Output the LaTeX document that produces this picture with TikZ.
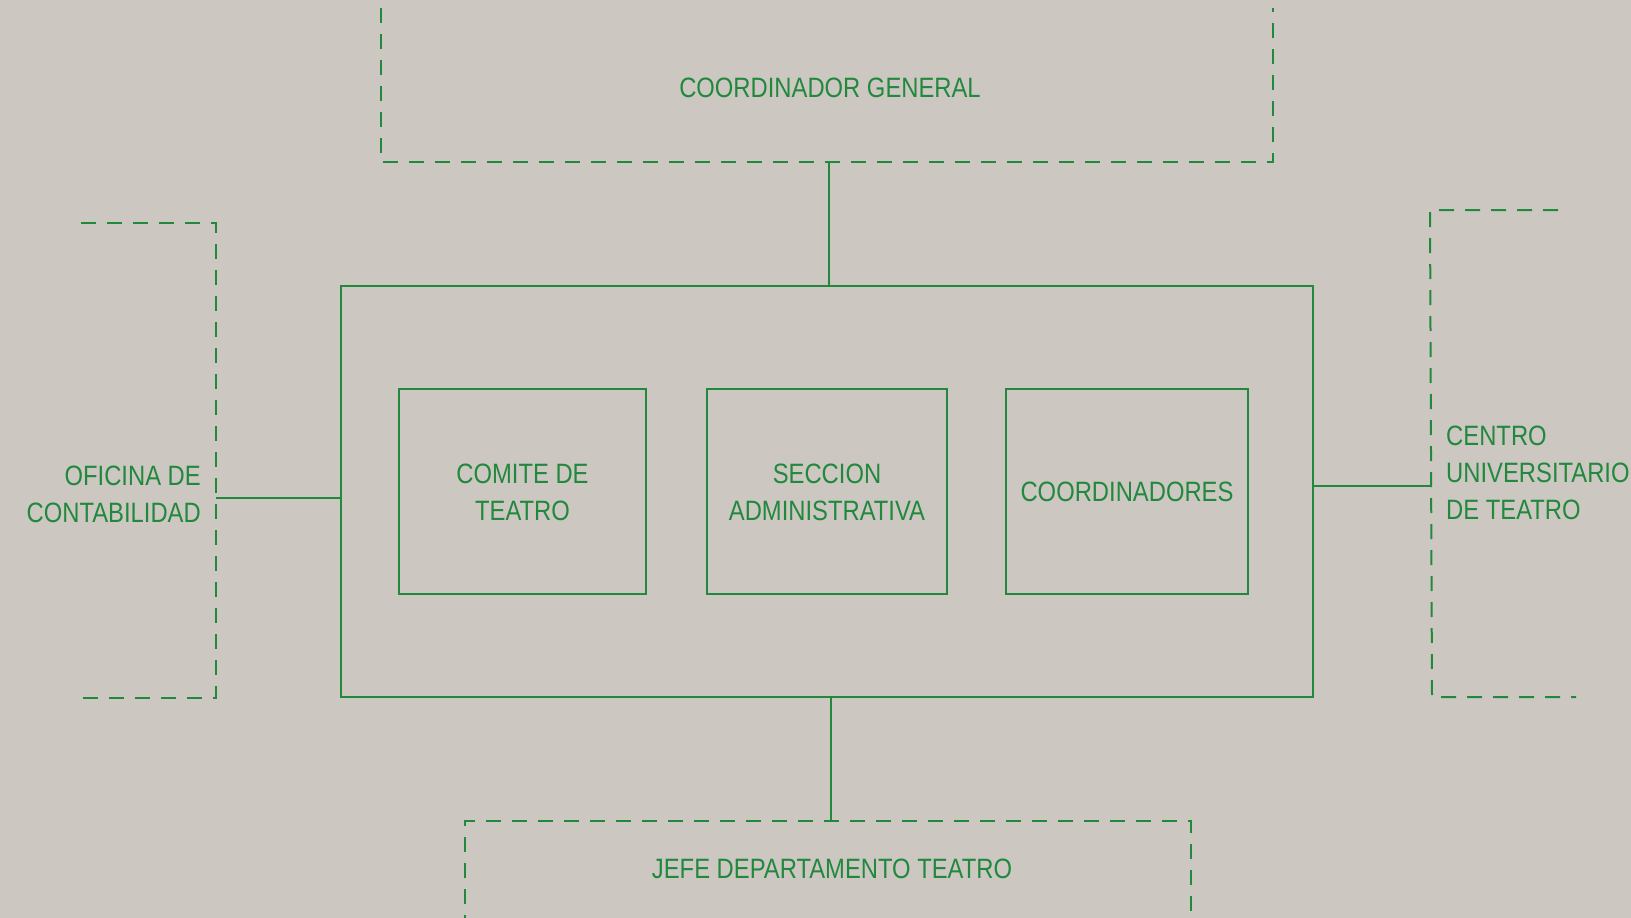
\documentclass[tikz,border=0pt]{standalone}
\usepackage{fontspec}
\setmainfont{Liberation Sans}[FakeStretch=0.85]
\definecolor{ink}{RGB}{34,136,62}
\definecolor{paper}{RGB}{204,200,193}
\begin{document}
\begin{tikzpicture}[x=1pt,y=-1pt,
  solidline/.style={draw=ink,line width=2pt},
  dashline/.style={draw=ink,line width=2pt,dash pattern=on 15pt off 11pt},
  lbl/.style={text=ink,font=\fontsize{28}{37}\selectfont,align=center,inner sep=0pt},
  box/.style={draw=ink,line width=2pt,inner sep=0pt}]
\fill[paper] (0,0) rectangle (1631,918);
\useasboundingbox (0,0) rectangle (1631,918);
\clip (0,0) rectangle (1631,918);
% main box and inner boxes
\node[box,minimum width=972pt,minimum height=411pt] (main) at (827,491.5) {};
\node[box,minimum width=247pt,minimum height=205pt] (comite) at (522.5,491.5) {};
\node[box,minimum width=240pt,minimum height=205pt] (seccion) at (827,491.5) {};
\node[box,minimum width=242pt,minimum height=205pt] (coord) at (1127,491.5) {};
\node[lbl] (tcomite) at (522.5,492) {COMITE DE\\TEATRO};
\node[lbl] (tseccion) at (827,492) {SECCION\\ADMINISTRATIVA};
\node[lbl] (tcoord) at (1127,492) {COORDINADORES};
% top dashed box
\draw[dashline] (381,8) -- (381,162) -- (1273,162) -- (1273,8);
\node[lbl] (tgen) at (830,88) {COORDINADOR GENERAL};
\coordinate (topc) at (829,162);
% left bracket
\draw[dashline] (81,223) -- (216,223) -- (216,698) -- (81,698);
\node[lbl,anchor=east,align=right] (tofi) at (201,494) {OFICINA DE\\CONTABILIDAD};
\coordinate (lc) at (216,498);
% right bracket
\draw[dashline] (1558,210) -- (1430,210) -- (1432,697) -- (1576,697);
\node[lbl,anchor=west,align=left] (tcen) at (1446,473) {CENTRO\\UNIVERSITARIO\\DE TEATRO};
\coordinate (rc) at (1431,486);
% bottom dashed box
\draw[dashline] (465,930) -- (465,821) -- (1191,821) -- (1191,930);
\node[lbl] (tjefe) at (832,869) {JEFE DEPARTAMENTO TEATRO};
\coordinate (bc) at (831,821);
% connectors
\draw[solidline] (topc) -- (topc |- main.north);
\draw[solidline] (lc) -- (lc -| main.west);
\draw[solidline] (rc) -- (rc -| main.east);
\draw[solidline] (bc |- main.south) -- (bc);
\end{tikzpicture}
\end{document}
